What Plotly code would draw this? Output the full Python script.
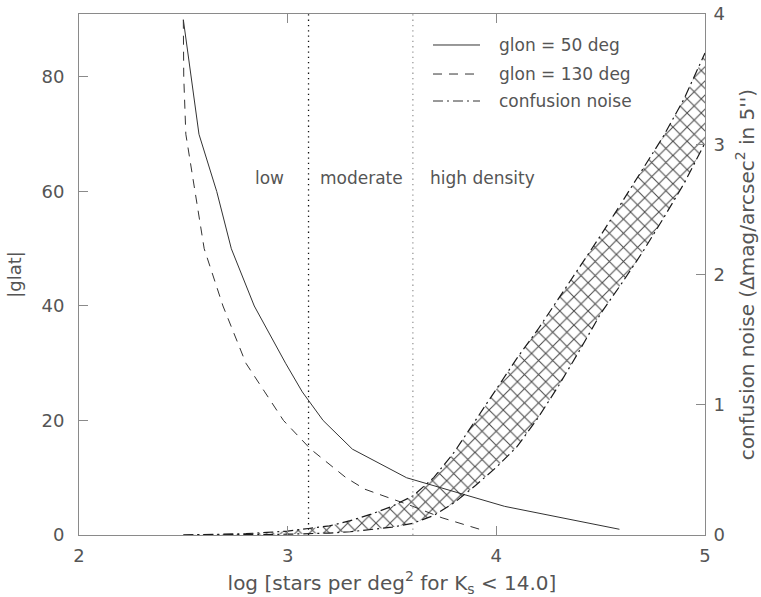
import plotly.graph_objects as go

# |glat| at which a given log surface density is reached, glon = 50 deg
glat_50 = [90, 70, 60, 50, 40, 30, 25, 20, 15, 10, 5, 1]
logn_50 = [2.50, 2.575, 2.66, 2.73, 2.84, 2.99, 3.07, 3.17, 3.31, 3.57, 4.04, 4.59]

# same for glon = 130 deg
glat_130 = [90, 80, 70, 60, 50, 40, 30, 25, 20, 15, 10, 8, 5, 3, 1]
logn_130 = [2.50, 2.502, 2.512, 2.555, 2.60, 2.69, 2.80, 2.89, 2.98, 3.11, 3.28, 3.37, 3.60, 3.74, 3.92]

# confusion noise band (right axis): lower and upper envelopes
logn_cn = [2.5, 2.6, 2.7, 2.8, 2.9, 3.0, 3.1, 3.2, 3.3, 3.4, 3.5, 3.6, 3.7,
           3.8, 3.9, 4.0, 4.1, 4.2, 4.3, 4.4, 4.5, 4.6, 4.7, 4.8, 4.9, 5.0]
cn_upper = [0.0, 0.002, 0.005, 0.01, 0.02, 0.03, 0.05, 0.07, 0.11, 0.16, 0.22, 0.30, 0.44,
            0.64, 0.88, 1.12, 1.36, 1.58, 1.82, 2.05, 2.30, 2.55, 2.80, 3.06, 3.35, 3.70]
cn_lower = [0.0, 0.0, 0.001, 0.002, 0.004, 0.006, 0.01, 0.015, 0.025, 0.04, 0.06, 0.09, 0.15,
            0.25, 0.38, 0.52, 0.68, 0.90, 1.15, 1.42, 1.70, 1.93, 2.17, 2.43, 2.70, 3.01]

# density regime boundaries and labels
regime_edges = [3.1, 3.6]
regime_labels = ["low", "moderate", "high density"]
regime_label_x = [2.915, 3.356, 3.936]
regime_label_y = 62.4

legend_names = ["glon = 50 deg", "glon = 130 deg", "confusion noise"]

FONT = "DejaVu Sans"
TXT = "#555555"
AX = "#8a8a8a"
INK = "#333333"
DASH = "9px,7px"
DASHDOT = "10px,4px,2px,4px"

fig = go.Figure()

fig.add_trace(go.Scatter(x=logn_50, y=glat_50, mode="lines",
                         line=dict(color=INK, width=1), showlegend=False))
fig.add_trace(go.Scatter(x=logn_130, y=glat_130, mode="lines",
                         line=dict(color=INK, width=1, dash=DASH), showlegend=False))

fig.add_trace(go.Scatter(x=logn_cn, y=cn_lower, yaxis="y2", mode="lines",
                         line=dict(color="#1a1a1a", width=1.2, dash=DASHDOT), showlegend=False))
fig.add_trace(go.Scatter(x=logn_cn, y=cn_upper, yaxis="y2", mode="lines",
                         line=dict(color="#1a1a1a", width=1.2, dash=DASHDOT),
                         fill="tonexty", fillcolor="rgba(255,255,255,0)",
                         fillpattern=dict(shape="x", size=10, solidity=0.2,
                                          fgcolor="#2a2a2a", fgopacity=0.85,
                                          bgcolor="rgba(255,255,255,0)"),
                         showlegend=False))

shapes = []
for xe, col in zip(regime_edges, ["#111111", "#9a9a9a"]):
    shapes.append(dict(type="line", xref="x", yref="paper", x0=xe, x1=xe, y0=0, y1=1,
                       line=dict(color=col, width=1.3, dash="1.3px,4px")))

# hand-built legend in the upper right
leg_x0, leg_x1, leg_tx = 0.5655, 0.6406, 0.6677
leg_y = [0.9405, 0.8848, 0.833]
leg_dash = ["solid", DASH, DASHDOT]
annotations = []
for name, yy, dd in zip(legend_names, leg_y, leg_dash):
    shapes.append(dict(type="line", xref="paper", yref="paper", x0=leg_x0, x1=leg_x1,
                       y0=yy, y1=yy, line=dict(color=INK, width=1, dash=dd)))
    annotations.append(dict(xref="paper", yref="paper", x=leg_tx, y=yy, text=name,
                            showarrow=False, xanchor="left", yanchor="middle",
                            font=dict(family=FONT, size=17, color=TXT)))

for lab, lx in zip(regime_labels, regime_label_x):
    annotations.append(dict(xref="x", yref="y", x=lx, y=regime_label_y, text=lab,
                            showarrow=False, xanchor="center", yanchor="middle",
                            font=dict(family=FONT, size=17, color=TXT)))

axis_common = dict(showgrid=False, zeroline=False, showline=True, linecolor=AX, linewidth=1,
                   ticks="inside", ticklen=9, tickcolor=AX, tickwidth=1, automargin=False,
                   tickfont=dict(family=FONT, size=18, color=TXT))

fig.update_layout(
    width=761, height=597,
    margin=dict(l=79, r=56, t=14, b=62),
    paper_bgcolor="white", plot_bgcolor="white",
    showlegend=False,
    xaxis=dict(range=[2, 5], tickvals=[2, 3, 4, 5], mirror="ticks", ticklabelstandoff=4,
               title=dict(text="log [stars per deg<sup>2</sup> for K<sub>s</sub> &lt; 14.0]",
                          font=dict(family=FONT, size=20, color=TXT)),
               **axis_common),
    yaxis=dict(range=[0, 91], tickvals=[0, 20, 40, 60, 80], ticklabelstandoff=10,
               title=dict(text="|glat|", font=dict(family=FONT, size=18, color=TXT)),
               **axis_common),
    yaxis2=dict(range=[0, 4], tickvals=[0, 1, 2, 3, 4], overlaying="y", side="right",
                ticklabelstandoff=4,
                title=dict(text="confusion noise (\u0394mag/arcsec<sup>2</sup> in 5'')",
                           font=dict(family=FONT, size=20, color=TXT)),
                **axis_common),
    shapes=shapes,
    annotations=annotations,
)

fig.write_html("out.html")
